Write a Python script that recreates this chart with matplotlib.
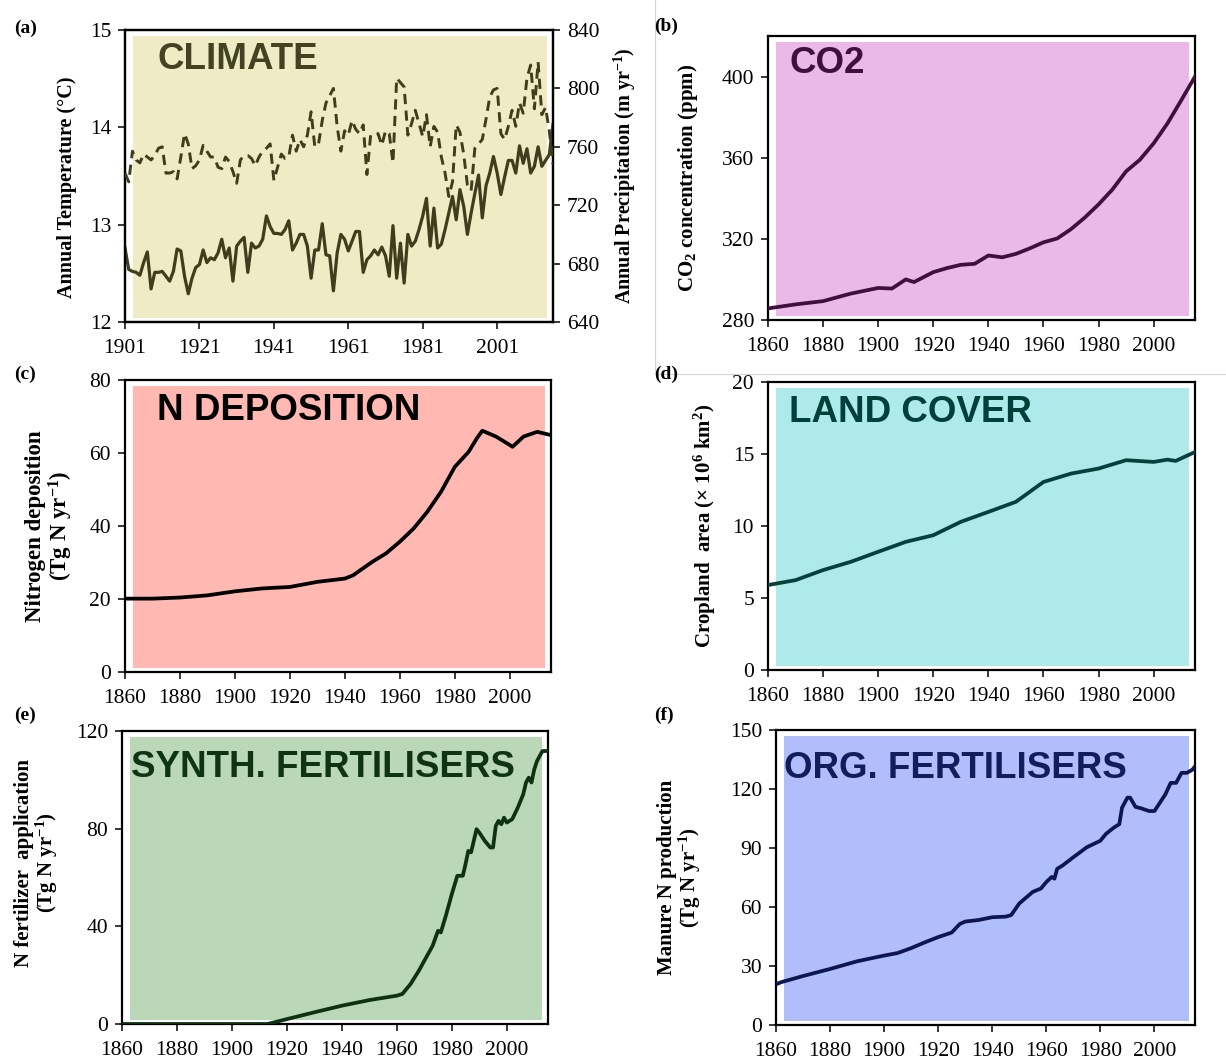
import matplotlib
matplotlib.use("Agg")
import matplotlib.pyplot as plt
from matplotlib.patches import Rectangle
from matplotlib.lines import Line2D

plt.rcParams['font.family'] = ['Liberation Serif', 'DejaVu Serif']
plt.rcParams['mathtext.fontset'] = 'custom'
plt.rcParams['mathtext.rm'] = 'Liberation Serif:bold'
plt.rcParams['mathtext.bf'] = 'Liberation Serif:bold'
plt.rcParams['mathtext.default'] = 'rm'

# ---------------- data ----------------
climate_years = list(range(1901, 2017))
temperature = [12.76, 12.54, 12.52, 12.51, 12.48, 12.61, 12.72, 12.34, 12.51, 12.51,
               12.52, 12.47, 12.42, 12.52, 12.75, 12.73, 12.47, 12.29, 12.45, 12.56,
               12.59, 12.74, 12.61, 12.66, 12.64, 12.71, 12.85, 12.66, 12.76, 12.42,
               12.78, 12.83, 12.87, 12.51, 12.81, 12.76, 12.78, 12.85, 13.09, 12.98,
               12.91, 12.91, 12.90, 12.95, 13.04, 12.74, 12.81, 12.90, 12.90, 12.78,
               12.45, 12.74, 12.74, 13.01, 12.69, 12.68, 12.32, 12.71, 12.90, 12.85,
               12.73, 12.83, 12.93, 12.93, 12.51, 12.64, 12.68, 12.74, 12.69, 12.77,
               12.68, 12.47, 12.99, 12.45, 12.81, 12.40, 12.90, 12.78, 12.83, 12.95,
               13.09, 13.27, 12.78, 13.17, 12.76, 12.80, 12.95, 13.12, 13.29, 13.05,
               13.36, 13.19, 12.90, 13.12, 13.32, 13.51, 13.07, 13.40, 13.53, 13.70,
               13.53, 13.31, 13.49, 13.66, 13.66, 13.53, 13.81, 13.63, 13.78, 13.53,
               13.60, 13.80, 13.60, 13.66, 13.72, 14.03]
precipitation = [742, 736, 757, 751, 749, 755, 753, 751, 754, 759,
                 760, 742, 742, 743, 738, 753, 769, 762, 745, 747,
                 751, 761, 757, 753, 753, 746, 745, 753, 750, 743,
                 735, 751, 754, 754, 752, 747, 753, 757, 759, 762,
                 737, 746, 755, 752, 753, 768, 757, 765, 760, 768,
                 784, 760, 762, 778, 790, 795, 800, 774, 757, 771,
                 768, 778, 772, 769, 775, 741, 768, 769, 769, 761,
                 771, 769, 749, 807, 804, 801, 768, 776, 785, 776,
                 767, 782, 760, 774, 770, 753, 742, 726, 736, 775,
                 770, 755, 734, 730, 759, 762, 765, 779, 794, 799,
                 800, 769, 765, 774, 785, 774, 790, 783, 807, 816,
                 786, 818, 782, 787, 771, 748]

co2_years = [1860, 1870, 1880, 1890, 1900, 1905, 1910, 1913, 1920, 1925, 1930, 1935,
             1940, 1945, 1950, 1955, 1960, 1965, 1970, 1975, 1980, 1985, 1990, 1995,
             2000, 2005, 2010, 2015]
co2_ppm = [285.7, 287.7, 289.3, 293.0, 295.8, 295.5, 300.0, 298.7, 303.6, 305.6, 307.2,
           307.7, 311.8, 310.9, 312.6, 315.3, 318.3, 320.2, 324.8, 330.5, 337.0, 344.3,
           353.3, 359.0, 367.1, 376.9, 388.3, 400.0]

ndep_years = [1860, 1870, 1880, 1890, 1900, 1910, 1920, 1930, 1940, 1943, 1950, 1955,
              1960, 1965, 1970, 1975, 1980, 1985, 1988, 1990, 1995, 2000, 2001, 2005,
              2010, 2015]
ndep_tg = [20.1, 20.1, 20.4, 21.0, 22.1, 22.9, 23.3, 24.7, 25.6, 26.5, 30.2, 32.5,
           35.7, 39.3, 43.9, 49.4, 56.2, 60.3, 64.0, 66.1, 64.5, 62.2, 61.7, 64.5,
           65.8, 64.9]

land_years = [1860, 1870, 1880, 1890, 1900, 1910, 1920, 1930, 1940, 1950, 1955, 1960,
              1970, 1980, 1990, 2000, 2005, 2008, 2015]
cropland = [5.9, 6.24, 6.94, 7.51, 8.21, 8.90, 9.36, 10.29, 10.98, 11.68, 12.37, 13.06,
            13.64, 13.99, 14.57, 14.45, 14.61, 14.52, 15.14]

synth_years = [1860, 1913, 1920, 1930, 1940, 1950, 1960, 1962, 1965, 1968, 1970, 1973,
               1975, 1976, 1978, 1980, 1982, 1984, 1985, 1986, 1987, 1988, 1989, 1990,
               1992, 1994, 1995, 1996, 1997, 1998, 1999, 2000, 2002, 2004, 2006, 2007,
               2008, 2009, 2010, 2011, 2012, 2013, 2015]
synth_fert = [0, 0, 2.0, 4.8, 7.5, 9.8, 11.6, 12.3, 16.4, 21.8, 25.9, 32.0, 38.2, 37.5,
              45.0, 53.2, 60.7, 60.7, 65.5, 70.9, 70.3, 75.0, 79.8, 78.4, 75.0, 72.3,
              72.3, 81.1, 83.2, 81.8, 84.5, 82.5, 83.9, 88.6, 94.1, 98.9, 100.9, 98.9,
              104.3, 107.7, 109.8, 111.8, 111.8]

manure_years = [1860, 1862, 1870, 1880, 1890, 1900, 1905, 1910, 1915, 1920, 1925, 1928,
                1930, 1935, 1940, 1945, 1947, 1950, 1955, 1958, 1960, 1962, 1963, 1964,
                1966, 1970, 1975, 1980, 1982, 1985, 1987, 1988, 1990, 1991, 1993, 1995,
                1998, 2000, 2002, 2004, 2006, 2008, 2010, 2012, 2014, 2015]
manure_n = [20.7, 21.8, 24.9, 28.5, 32.4, 35.3, 36.6, 39.1, 42.0, 44.7, 47.0, 51.4,
            52.6, 53.4, 54.8, 55.1, 55.9, 61.8, 67.7, 69.4, 72.7, 75.3, 74.4, 79.4,
            81.1, 85.3, 90.4, 93.7, 97.1, 100.4, 102.1, 110.5, 115.6, 115.6, 110.9,
            110.2, 108.8, 108.8, 113.0, 117.2, 123.1, 123.1, 128.2, 128.2, 129.8, 131.5]

# ---------------- figure ----------------
W, H = 1226, 1061
fig = plt.figure(figsize=(W / 100, H / 100), dpi=100)

TICK_FS = 15.5


def make_ax(l, r, t, b):
    return fig.add_axes([l / W, 1 - b / H, (r - l) / W, (b - t) / H])


def style(ax, bg, xlim, ylim, xticks, yticks):
    ax.set_facecolor('white')
    ax.add_patch(Rectangle((0.018, 0.014), 0.968, 0.966, transform=ax.transAxes,
                           facecolor=bg, edgecolor='none', zorder=0))
    ax.set_xlim(*xlim)
    ax.set_ylim(*ylim)
    ax.set_xticks(xticks)
    ax.set_yticks(yticks)
    for s in ax.spines.values():
        s.set_linewidth(1.6)
        s.set_color('black')
    ax.tick_params(axis='both', direction='out', length=5, width=1.1, labelsize=TICK_FS,
                   colors='black')
    ax.tick_params(axis='x', pad=7)
    ax.tick_params(axis='y', pad=5)


def title(ax, txt, color, x, y):
    ax.text(x, y, txt, transform=ax.transAxes, ha='left', va='top',
            fontfamily='Liberation Sans', fontweight='bold', fontsize=26.5,
            color=color, zorder=5)


def ylabel(ax, txt, xpos, ypos=0.5, fs=15, ls=0.95):
    ax.set_ylabel(txt, fontsize=fs, fontweight='bold', linespacing=ls)
    ax.yaxis.set_label_coords(xpos, ypos)


yr_ticks = list(range(1860, 2001, 20))

# (a) climate
axa = make_ax(125, 553, 30, 322)
style(axa, '#EFEBC5', (1901, 2016), (12, 15), list(range(1901, 2002, 20)), [12, 13, 14, 15])
axa.plot(climate_years, temperature, color='#3F3D1C', lw=2.3, zorder=3)
ylabel(axa, 'Annual Temperature (°C)', -0.112, 0.46, fs=14.5)
axa2 = axa.twinx()
axa2.set_ylim(640, 840)
axa2.set_yticks(list(range(640, 841, 40)))
axa2.tick_params(axis='y', direction='out', length=5, width=1.1, labelsize=TICK_FS, pad=5)
for s in axa2.spines.values():
    s.set_linewidth(1.6)
axa2.plot(climate_years, precipitation, color='#3F3D1C', lw=2.1, ls=(0, (3.5, 2.2)), zorder=3)
axa2.set_ylabel('Annual Precipitation (m yr$^{-1}$)', rotation=90, fontsize=14.5,
                fontweight='bold')
axa2.yaxis.set_label_coords(1.138, 0.5)
title(axa, 'CLIMATE', '#434222', 0.075, 0.96)

# (b) CO2
axb = make_ax(768, 1195, 36, 320)
style(axb, '#EAB9E8', (1860, 2015), (280, 420), yr_ticks, [280, 320, 360, 400])
axb.plot(co2_years, co2_ppm, color='#3F0F3E', lw=2.7, zorder=3)
ylabel(axb, 'CO$_2$ concentration (ppm)', -0.159)
title(axb, 'CO2', '#3F0F3E', 0.05, 0.965)

# (c) N deposition
axc = make_ax(125, 551, 380, 672)
style(axc, '#FFB8B2', (1860, 2015), (0, 80), yr_ticks, [0, 20, 40, 60, 80])
axc.plot(ndep_years, ndep_tg, color='black', lw=2.7, zorder=3)
ylabel(axc, 'Nitrogen deposition\n(Tg N yr$^{-1}$)', -0.117, 0.5, fs=16.5, ls=1.05)
title(axc, 'N DEPOSITION', 'black', 0.075, 0.955)

# (d) land cover
axd = make_ax(768, 1195, 382, 670)
style(axd, '#AEEAEA', (1860, 2015), (0, 20), yr_ticks, [0, 5, 10, 15, 20])
axd.plot(land_years, cropland, color='#063F3B', lw=2.7, zorder=3)
ylabel(axd, 'Cropland  area (× 10$^6$ km$^2$)', -0.117)
title(axd, 'LAND COVER', '#003F3A', 0.05, 0.955)

# (e) synthetic fertilisers
axe = make_ax(122, 548, 731, 1024)
style(axe, '#BAD8B8', (1860, 2015), (0, 120), yr_ticks, [0, 40, 80, 120])
axe.plot(synth_years, synth_fert, color='#0E3112', lw=2.7, zorder=3)
ylabel(axe, 'N fertilizer  application\n(Tg N yr$^{-1}$)', -0.146, 0.55, ls=1.0)
title(axe, 'SYNTH. FERTILISERS', '#0F3414', 0.02, 0.935)

# (f) organic fertilisers
axf = make_ax(776, 1195, 730, 1025)
style(axf, '#B0BEFC', (1860, 2015), (0, 150), yr_ticks, [0, 30, 60, 90, 120, 150])
axf.plot(manure_years, manure_n, color='#0E1650', lw=2.7, zorder=3)
ylabel(axf, 'Manure N production\n(Tg N yr$^{-1}$)', -0.174, 0.5, ls=1.0)
title(axf, 'ORG. FERTILISERS', '#101E5E', 0.018, 0.93)

# panel letters
for lab, (px, py) in zip(['(a)', '(b)', '(c)', '(d)', '(e)', '(f)'],
                         [(14, 20), (654, 18), (14, 366), (654, 366), (14, 707), (654, 707)]):
    fig.text(px / W, 1 - py / H, lab, fontsize=14, fontweight='bold', ha='left', va='top')

# thin grey frame lines from the original figure
fig.add_artist(Line2D([655 / W, 655 / W], [1.0, 1 - 374 / H], color='#d4d4d4', lw=0.8))
fig.add_artist(Line2D([655 / W, 1.0], [1 - 374 / H, 1 - 374 / H], color='#d4d4d4', lw=0.8))

fig.savefig('out.png', dpi=100)
